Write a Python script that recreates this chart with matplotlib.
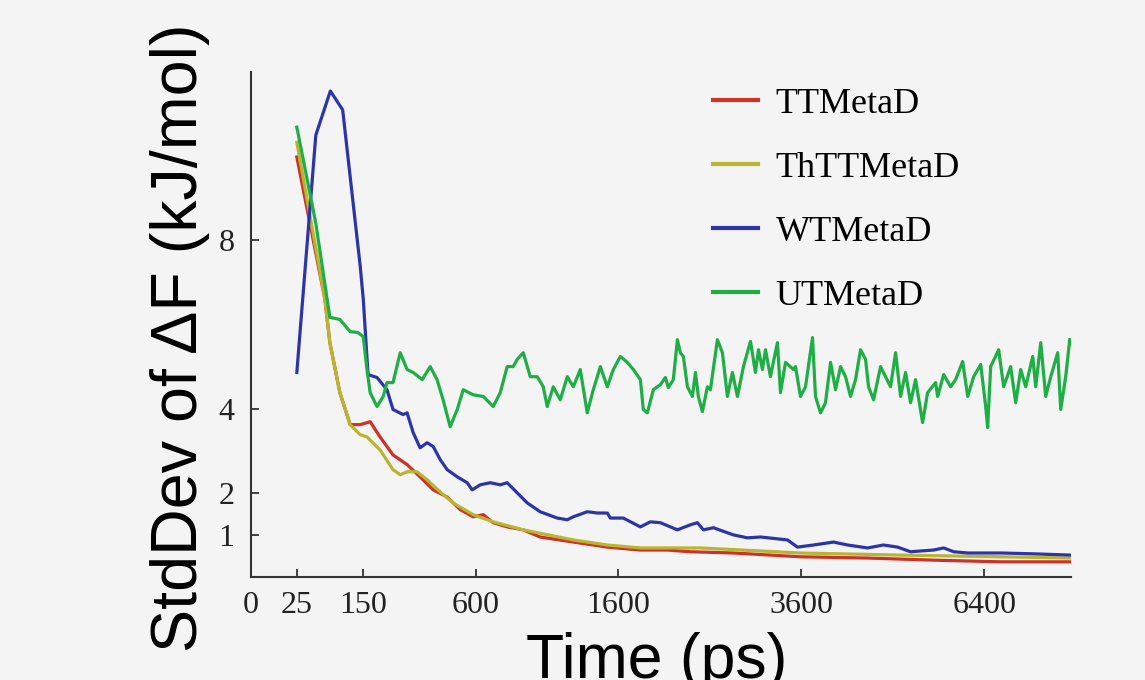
import numpy as np
import matplotlib
matplotlib.use("Agg")
import matplotlib.pyplot as plt

# time (ps) and StdDev of dF (kJ/mol)
t_tt = [25, 65, 74, 94, 117, 142, 169, 198, 240, 290, 340, 395, 458, 521, 587, 642, 698,
        781, 882, 995, 1236, 1510, 1804, 2062, 2297, 2769, 3592, 4523, 5543, 6686, 8000]
y_tt = [9.98, 6.6, 5.57, 4.38, 3.62, 3.62, 3.69, 3.33, 2.90, 2.67, 2.38, 2.07, 1.90, 1.60,
        1.43, 1.48, 1.29, 1.19, 1.12, 0.95, 0.83, 0.71, 0.64, 0.64, 0.60, 0.57, 0.48, 0.45,
        0.40, 0.36, 0.36]

t_thtt = [25, 65, 74, 94, 117, 142, 160, 198, 240, 265, 290, 328, 369, 426, 486, 587, 698,
          882, 1236, 1510, 1804, 2297, 2403, 3592, 5020, 6686, 8000]
y_thtt = [10.33, 6.6, 5.57, 4.38, 3.62, 3.38, 3.33, 3.02, 2.55, 2.43, 2.50, 2.50, 2.31, 2.02,
          1.76, 1.48, 1.31, 1.12, 0.88, 0.76, 0.69, 0.69, 0.69, 0.57, 0.52, 0.48, 0.45]

t_wt = [25, 50, 75, 100, 142, 150, 163, 189, 220, 240, 275, 290, 313, 340, 369, 395, 426,
        458, 506, 556, 582, 625, 681, 739, 781, 843, 908, 995, 1116, 1190, 1236, 1345, 1427,
        1510, 1536, 1649, 1804, 1897, 1994, 2163, 2297, 2371, 2435, 2544, 2769, 2932, 3088,
        3424, 3553, 3764, 4037, 4234, 4523, 4761, 4973, 5175, 5543, 5708, 5874, 6111, 6686,
        7288, 8000]
y_wt = [4.86, 10.5, 11.55, 11.1, 7.38, 6.6, 4.81, 4.74, 4.45, 3.98, 3.86, 3.90, 3.43, 3.07,
        3.19, 3.10, 2.79, 2.55, 2.38, 2.24, 2.07, 2.19, 2.24, 2.19, 2.24, 2.00, 1.76, 1.55,
        1.40, 1.36, 1.43, 1.55, 1.52, 1.52, 1.40, 1.40, 1.19, 1.31, 1.29, 1.12, 1.24, 1.29,
        1.12, 1.17, 1.00, 0.93, 0.95, 0.88, 0.71, 0.76, 0.83, 0.76, 0.69, 0.76, 0.71, 0.60,
        0.64, 0.69, 0.60, 0.57, 0.57, 0.55, 0.52]

t_ut = [25, 50, 74, 94, 117, 136, 150, 160, 169, 189, 208, 220, 240, 265, 290, 313, 349,
        382, 412, 439, 472, 506, 536, 587, 642, 698, 739, 781, 818, 843, 882, 928, 975, 1016,
        1044, 1087, 1138, 1190, 1236, 1290, 1345, 1394, 1452, 1510, 1562, 1623, 1685, 1739,
        1804, 1831, 1869, 1926, 1994, 2043, 2072, 2122, 2163, 2193, 2224, 2266, 2318, 2350,
        2381, 2424, 2478, 2511, 2588, 2644, 2700, 2757, 2815, 2885, 2968, 3027, 3064, 3112,
        3149, 3210, 3297, 3335, 3399, 3501, 3527, 3592, 3658, 3751, 3791, 3859, 3926, 3996,
        4065, 4135, 4205, 4276, 4348, 4420, 4493, 4537, 4611, 4715, 4790, 4866, 4943, 5020,
        5097, 5175, 5254, 5366, 5446, 5576, 5609, 5708, 5823, 5907, 6025, 6111, 6213, 6335,
        6421, 6456, 6509, 6650, 6740, 6865, 6957, 7048, 7140, 7270, 7326, 7420, 7513, 7609,
        7742, 7800, 7896, 7975]
y_ut = [10.69, 8.4, 6.17, 6.12, 5.83, 5.81, 5.71, 4.93, 4.38, 4.05, 4.29, 4.62, 4.62, 5.33,
        4.93, 4.86, 4.69, 5.00, 4.69, 4.21, 3.57, 3.98, 4.45, 4.33, 4.29, 4.05, 4.38, 5.00,
        5.00, 5.17, 5.33, 4.76, 4.76, 4.52, 4.05, 4.52, 4.21, 4.76, 4.52, 4.93, 3.90, 4.45,
        5.00, 4.52, 4.93, 5.24, 5.10, 4.93, 4.69, 3.98, 3.90, 4.45, 4.57, 4.74, 4.50, 4.69,
        5.64, 5.33, 5.24, 4.52, 4.29, 4.86, 4.29, 3.93, 4.52, 4.45, 5.64, 5.33, 4.29, 4.86,
        4.29, 5.00, 5.60, 4.86, 5.40, 4.93, 5.40, 4.76, 5.57, 4.38, 5.10, 4.93, 5.00, 4.29,
        4.52, 5.69, 4.29, 3.90, 4.14, 5.10, 4.45, 5.00, 4.76, 4.29, 4.69, 5.40, 5.17, 4.52,
        4.21, 5.00, 4.76, 4.52, 5.33, 4.29, 4.86, 4.14, 4.69, 3.67, 4.38, 4.62, 4.29, 4.81,
        4.52, 4.69, 5.12, 4.29, 4.76, 5.05, 4.05, 3.55, 5.00, 5.40, 4.52, 5.00, 4.14, 4.93,
        4.52, 5.24, 4.52, 5.57, 4.29, 4.76, 5.33, 3.98, 4.76, 5.64]

xticks = [0, 25, 150, 600, 1600, 3600, 6400]
yticks = [1, 2, 4, 8]

bg = "#f4f4f4"
fig = plt.figure(figsize=(11.45, 6.8), dpi=100, facecolor=bg)
ax = fig.add_axes([0.2192, 0.1515, 0.7162, 0.7426])
ax.set_facecolor(bg)

lw = 2.3
ax.plot(t_tt, y_tt, color="#cc3326", lw=lw, label="TTMetaD")
ax.plot(t_thtt, y_thtt, color="#b8b530", lw=lw, label="ThTTMetaD")
ax.plot(t_wt, y_wt, color="#2d35a6", lw=lw, label="WTMetaD")
ax.plot(t_ut, y_ut, color="#1fae45", lw=lw, label="UTMetaD")

ax.set_xscale("function", functions=(lambda v: np.sqrt(np.clip(v, 0, None)), lambda v: v ** 2))
ax.set_xlim(0, 8000)
ax.set_ylim(0, 12)
ax.set_xticks(xticks)
ax.set_xticklabels([str(v) for v in xticks])
ax.set_yticks(yticks)
ax.set_yticklabels([str(v) for v in yticks])

for s in ["top", "right"]:
    ax.spines[s].set_visible(False)
for s in ["left", "bottom"]:
    ax.spines[s].set_linewidth(1.5)
    ax.spines[s].set_color("#333333")

serif = "Liberation Serif"
ax.tick_params(direction="in", length=6, width=1.3, color="#333333", labelsize=23)
ax.tick_params(axis="x", pad=10)
ax.tick_params(axis="y", pad=12)
for lab in ax.get_xticklabels() + ax.get_yticklabels():
    lab.set_fontfamily(serif)
    lab.set_color("#222222")

ax.set_xlabel("Time (ps)", fontsize=45, family="Liberation Sans")
ax.set_ylabel("StdDev of ΔF (kJ/mol)", fontsize=46.5, family="Liberation Sans")
ax.xaxis.set_label_coords(0.495, -0.108)
ax.yaxis.set_label_coords(-0.05, 0.474)

leg = ax.legend(loc="upper left", bbox_to_anchor=(0.6227, 0.871),
                bbox_transform=fig.transFigure, frameon=False,
                prop={"family": serif, "size": 26}, handlelength=1.26,
                handletextpad=0.47, labelspacing=0.85, borderpad=0,
                borderaxespad=0)
for h in leg.get_lines():
    h.set_linewidth(3)

fig.savefig("out.png", dpi=100, facecolor=bg)
